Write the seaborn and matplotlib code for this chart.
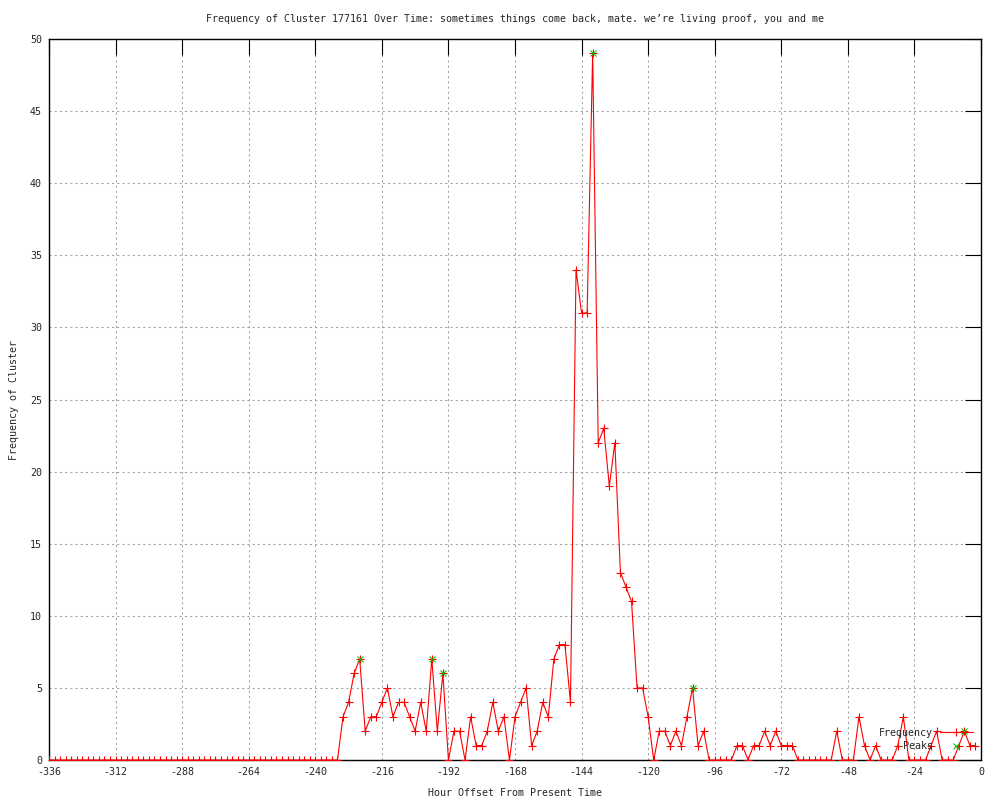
import numpy as np
import pandas as pd
import matplotlib
matplotlib.use("Agg")
import matplotlib.pyplot as plt
import seaborn as sns

# ---- data ----
hours = list(range(-336, 0, 2))  # 168 samples, every 2 hours
frequency = (
    [0] * 53 +
    [3, 4, 6, 7, 2, 3, 3, 4, 5, 3, 4, 4, 3, 2, 4, 2, 7, 2, 6, 0,
     2, 2, 0, 3, 1, 1, 2, 4, 2, 3, 0, 3, 4, 5, 1, 2, 4, 3, 7, 8,
     8, 4, 34, 31, 31, 49, 22, 23, 19, 22, 13, 12, 11, 5, 5, 3, 0, 2, 2, 1,
     2, 1, 3, 5, 1, 2, 0, 0, 0, 0, 0, 1, 1, 0, 1, 1, 2, 1, 2, 1,
     1, 1, 0, 0, 0, 0, 0, 0, 0, 2, 0, 0, 0, 3, 1, 0, 1, 0, 0, 0,
     1, 3, 0, 0, 0, 0, 1, 2, 0, 0, 0, 1, 2, 1, 1]
)
peak_hours = [-224, -198, -194, -140, -104, -6]
peak_values = [7, 7, 6, 49, 5, 2]

title = "Frequency of Cluster 177161 Over Time: sometimes things come back, mate. we\u2019re living proof, you and me"
x_label = "Hour Offset From Present Time"
y_label = "Frequency of Cluster"
x_ticks = list(range(-336, 1, 24))
y_ticks = list(range(0, 51, 5))

df = pd.DataFrame({"hour": hours, "freq": frequency})
peaks = pd.DataFrame({"hour": peak_hours, "freq": peak_values})

sns.set_style("white")
plt.rcParams["font.family"] = ["DejaVu Sans Mono", "DejaVu Sans"]
FS = 7.2

fig = plt.figure(figsize=(10, 8), dpi=100)
ax = fig.add_axes([0.049, 0.05, 0.932, 0.90125])

sns.lineplot(data=df, x="hour", y="freq", ax=ax, color="#ff0000", linewidth=0.8,
             marker="+", markersize=5.8, markeredgewidth=0.8, markeredgecolor="#ff0000",
             label="Frequency", estimator=None, sort=False, zorder=3)
sns.lineplot(data=peaks, x="hour", y="freq", ax=ax, color="#00c000", linestyle="",
             marker="x", markersize=4.5, markeredgewidth=0.75, markeredgecolor="#00c000",
             label="    Peaks", estimator=None, sort=False, zorder=3.5)

ax.set_xlim(-336, 0)
ax.set_ylim(0, 50)
ax.set_xticks(x_ticks)
ax.set_yticks(y_ticks)
ax.set_xticklabels([str(t) for t in x_ticks])
ax.set_yticklabels([str(t) for t in y_ticks])

ax.grid(True, color="#a0a0a0", linestyle=(0, (2, 3)), linewidth=0.75)
ax.set_axisbelow(True)

for s in ax.spines.values():
    s.set_visible(True)
    s.set_color("black")
    s.set_linewidth(1.0)

ax.tick_params(axis="both", which="major", direction="in", length=11.5, width=0.8,
               color="black", labelsize=FS, top=True, right=True, pad=5)

ax.set_title(title, fontsize=FS, pad=12)
ax.set_xlabel(x_label, fontsize=FS, labelpad=8)
ax.set_ylabel(y_label, fontsize=FS, labelpad=8)

leg = ax.legend(loc="lower right", bbox_to_anchor=(0.991, 0.012), frameon=False,
                markerfirst=False, fontsize=FS, handlelength=3.3, handletextpad=0.7,
                labelspacing=0.35, borderpad=0.0, borderaxespad=0.0)

fig.savefig("out.png", dpi=100, facecolor="white")
